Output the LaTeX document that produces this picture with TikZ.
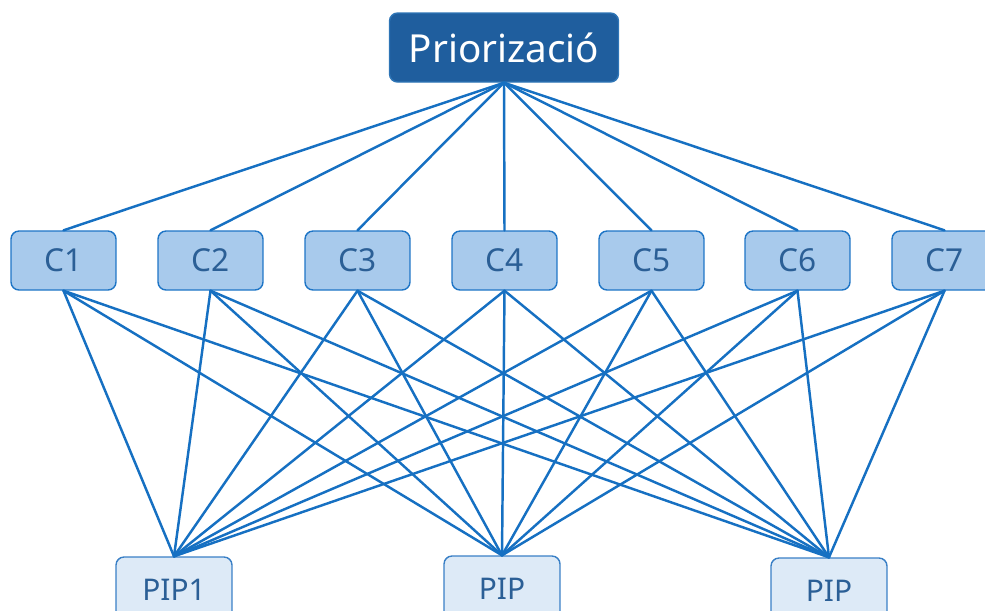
\documentclass[tikz,border=0pt]{standalone}
\usepackage{fontspec}
\setmainfont{Noto Sans}
\definecolor{topfill}{RGB}{31,94,158}
\definecolor{topedge}{RGB}{46,117,182}
\definecolor{critfill}{RGB}{168,202,236}
\definecolor{critedge}{RGB}{30,117,198}
\definecolor{pipfill}{RGB}{221,234,247}
\definecolor{pipedge}{RGB}{58,128,198}
\definecolor{labeltext}{RGB}{43,95,150}
\definecolor{linkblue}{RGB}{22,112,194}
\tikzset{
  goalbox/.style={draw=topedge,fill=topfill,rounded corners=0.16cm,line width=0.8pt,
    minimum width=4.58cm,minimum height=1.38cm,text=white,font=\fontsize{22}{26}\selectfont},
  critbox/.style={draw=critedge,fill=critfill,rounded corners=0.16cm,line width=0.8pt,
    minimum width=2.1cm,minimum height=1.18cm,text=labeltext,font=\fontsize{18}{21}\selectfont},
  pipbox/.style={draw=pipedge,fill=pipfill,rounded corners=0.16cm,line width=0.8pt,
    minimum width=2.32cm,minimum height=1.32cm,text=labeltext,font=\fontsize{17}{20}\selectfont},
  link/.style={draw=linkblue,line width=1.4pt}
}
\begin{document}
\begin{tikzpicture}[line join=round,line cap=round,x=0.02cm,y=-0.02cm]
    \useasboundingbox (0,0) rectangle (985,610);
    \node[goalbox] (top) at (504,47.5) {Priorizació};
    % criteris
    \foreach \i/\x in {1/63.5,2/210.5,3/357.5,4/504.5,5/651.5,6/797.5,7/944.5}
        \node[critbox] (c\i) at (\x,260.5) {C\i};
    % alternatives
    \node[pipbox] (pip1) at (174,590) {PIP1};
    \node[pipbox] (pip2) at (502,589) {PIP};
    \node[pipbox] (pip3) at (829,591) {PIP};
    \foreach \i in {1,...,7}{
        \draw[link] (top.south)--(c\i.north);
        \foreach \j in {1,2,3}\draw[link] (c\i.south)--(pip\j.north);
    }
\end{tikzpicture}
\end{document}
